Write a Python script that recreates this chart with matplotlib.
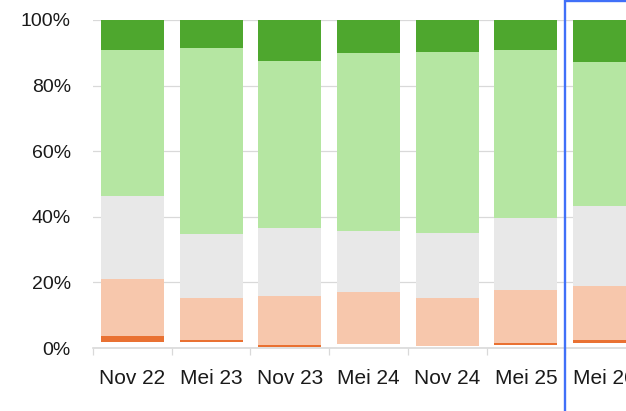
import numpy as np
import matplotlib
matplotlib.use("Agg")
import matplotlib.pyplot as plt
from matplotlib.patches import Rectangle

# Survey rounds (last one is cut off by the picture edge)
categories = ["Nov 22", "Mei 23", "Nov 23", "Mei 24", "Nov 24", "Mei 25", "Mei 26"]

# shares in %, bottom to top
blank = [1.9, 1.9, 0.4, 1.2, 0.7, 1.0, 1.5]
very_neg = [1.8, 0.6, 0.4, 0.0, 0.0, 0.4, 1.0]
neg = [17.3, 12.7, 15.1, 15.9, 14.6, 16.2, 16.3]
neutral = [25.4, 19.5, 20.7, 18.6, 19.9, 22.1, 24.5]
pos = [44.6, 56.7, 50.9, 54.3, 55.0, 51.2, 43.8]
very_pos = [9.0, 8.6, 12.5, 10.0, 9.8, 9.1, 12.9]

series = [blank, very_neg, neg, neutral, pos, very_pos]
colors = ["white", "#E97132", "#F7C7AC", "#E8E8E8", "#B5E6A2", "#4EA72E"]

W, H = 626, 411
fig = plt.figure(figsize=(W / 100, H / 100), dpi=100)
# plot area runs past the right edge of the picture
ax = fig.add_axes([93 / W, (H - 348) / H, 551 / W, 328 / H])

x = np.arange(len(categories))
bottom = np.zeros(len(categories))
for vals, c in zip(series, colors):
    vals = np.array(vals)
    ax.bar(x, vals, bottom=bottom, width=0.8, color=c, linewidth=0, zorder=2)
    bottom += vals

ax.set_xlim(-0.5, len(categories) - 0.5)
ax.set_ylim(0, 100)
ax.set_yticks(np.arange(0, 101, 20))
ax.set_yticklabels([f"{v}%" for v in range(0, 101, 20)])
ax.yaxis.grid(True, color="#D9D9D9", linewidth=0.9, zorder=0)
ax.set_axisbelow(True)

ax.set_xticks(x)
ax.set_xticklabels(categories)
ax.set_xticks(np.arange(-0.5, len(categories)), minor=True)
ax.tick_params(axis="x", which="major", length=0, pad=15, labelsize=15, labelcolor="#1a1a1a")
ax.tick_params(axis="x", which="minor", length=5, width=0.9, color="#D9D9D9")
ax.tick_params(axis="y", length=0, pad=16, labelsize=14, labelcolor="#1a1a1a")
for lab in ax.get_xticklabels() + ax.get_yticklabels():
    lab.set_family("Liberation Sans")

for s in ["top", "right", "left"]:
    ax.spines[s].set_visible(False)
ax.spines["bottom"].set_color("#D9D9D9")
ax.spines["bottom"].set_linewidth(1.2)

# blue selection frame around the last bar
fig.patches.append(Rectangle((565 / W, -0.1), 0.2, 1.1 - 1.5 / H, transform=fig.transFigure,
                             fill=False, edgecolor="#4070F8", linewidth=1.7, zorder=10))

fig.savefig("out.png", dpi=100)
